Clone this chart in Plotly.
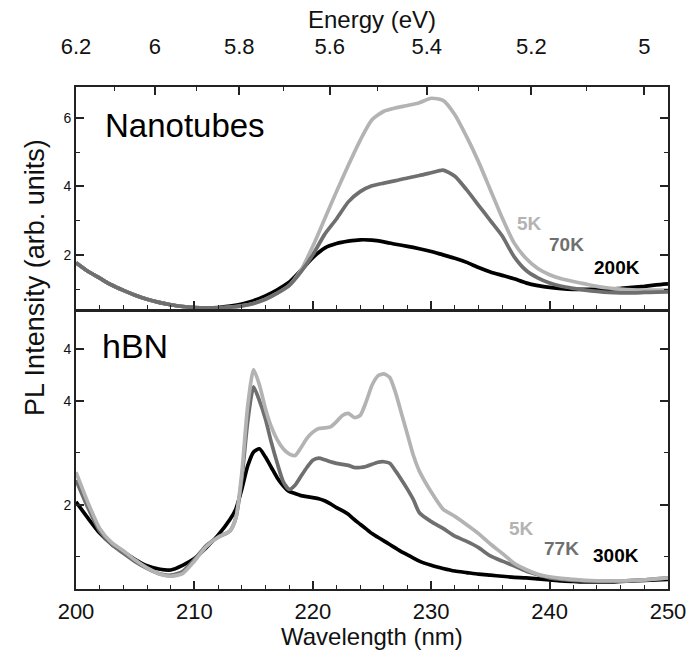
import plotly.graph_objects as go

# ---------------- data ----------------
wl_nt = [200, 201, 202, 203, 204, 205, 206, 207, 208, 209, 210, 211, 212, 213, 214, 215,
         216, 217, 218, 219, 220, 221, 222, 223, 224, 225, 226, 227, 228, 229, 230, 231,
         232, 233, 234, 235, 236, 237, 238, 239, 240, 241, 242, 243, 244, 245, 246, 247,
         248, 249, 250]
nt_5K = [1.77, 1.52, 1.32, 1.12, 0.96, 0.82, 0.70, 0.61, 0.54, 0.49, 0.46, 0.45, 0.45, 0.47, 0.51, 0.58,
         0.70, 0.88, 1.10, 1.55, 2.25, 3.05, 3.85, 4.62, 5.35, 5.95, 6.20, 6.30, 6.37, 6.45, 6.58, 6.52,
         6.10, 5.45, 4.72, 3.90, 3.08, 2.35, 1.90, 1.60, 1.42, 1.30, 1.22, 1.15, 1.08, 1.03, 1.00, 0.98,
         0.97, 0.97, 0.97]
nt_70K = [1.77, 1.52, 1.32, 1.12, 0.96, 0.82, 0.70, 0.61, 0.54, 0.49, 0.46, 0.45, 0.45, 0.47, 0.51, 0.58,
          0.70, 0.88, 1.10, 1.50, 2.00, 2.60, 3.05, 3.55, 3.85, 4.02, 4.10, 4.17, 4.25, 4.32, 4.40, 4.48,
          4.30, 3.90, 3.45, 3.00, 2.55, 1.95, 1.55, 1.33, 1.18, 1.08, 1.02, 0.97, 0.93, 0.90, 0.89, 0.89,
          0.90, 0.91, 0.92]
nt_200K = [1.77, 1.52, 1.32, 1.12, 0.96, 0.82, 0.70, 0.61, 0.54, 0.49, 0.46, 0.45, 0.46, 0.50, 0.56, 0.66,
           0.80, 0.98, 1.20, 1.55, 1.92, 2.20, 2.33, 2.40, 2.44, 2.43, 2.38, 2.31, 2.25, 2.18, 2.10, 2.00,
           1.90, 1.78, 1.63, 1.50, 1.40, 1.30, 1.18, 1.10, 1.05, 1.01, 0.99, 0.99, 0.99, 1.00, 1.02, 1.05,
           1.08, 1.12, 1.15]

wl_bn = [200, 201, 202, 203, 204, 205, 206, 207, 208, 209, 210, 211, 212, 213, 213.5, 214, 214.5,
         215, 215.5, 216, 216.5, 217, 217.5, 218, 218.5, 219, 219.5, 220, 220.5, 221, 221.5, 222,
         222.5, 223, 223.5, 224, 224.5, 225, 225.5, 226, 226.5, 227, 227.5, 228, 228.5, 229, 230,
         231, 232, 233, 234, 235, 236, 237, 238, 239, 240, 241, 242, 243, 244, 245, 246, 247, 248,
         249, 250]
bn_5K = [2.63, 2.05, 1.55, 1.28, 1.12, 0.94, 0.79, 0.68, 0.63, 0.68, 0.92, 1.20, 1.38, 1.50, 1.75, 2.60, 3.90,
         4.60, 4.30, 3.85, 3.50, 3.25, 3.08, 2.98, 2.95, 3.10, 3.28, 3.40, 3.47, 3.48, 3.50, 3.60,
         3.72, 3.76, 3.68, 3.72, 3.98, 4.30, 4.48, 4.52, 4.45, 4.15, 3.75, 3.35, 2.95, 2.65, 2.25,
         1.92, 1.78, 1.62, 1.45, 1.25, 1.07, 0.88, 0.76, 0.67, 0.62, 0.59, 0.57, 0.55, 0.54, 0.54, 0.54, 0.55, 0.56,
         0.58, 0.60]
bn_77K = [2.48, 1.95, 1.50, 1.24, 1.07, 0.91, 0.78, 0.68, 0.65, 0.72, 0.95, 1.22, 1.38, 1.50, 1.75, 2.50, 3.60,
          4.27, 4.00, 3.65, 3.20, 2.80, 2.45, 2.30, 2.38, 2.55, 2.72, 2.86, 2.90, 2.87, 2.83, 2.80,
          2.78, 2.76, 2.72, 2.72, 2.74, 2.78, 2.82, 2.83, 2.80, 2.65, 2.48, 2.30, 2.10, 1.85, 1.68,
          1.55, 1.40, 1.30, 1.18, 1.02, 0.92, 0.83, 0.73, 0.66, 0.60, 0.57, 0.55, 0.54, 0.54, 0.54, 0.54, 0.55, 0.56,
          0.58, 0.60]
bn_300K = [2.06, 1.75, 1.46, 1.25, 1.10, 0.95, 0.83, 0.77, 0.75, 0.84, 0.97, 1.18, 1.42, 1.72, 1.92, 2.30, 2.75,
           3.02, 3.08, 2.92, 2.72, 2.52, 2.37, 2.26, 2.22, 2.18, 2.16, 2.14, 2.12, 2.08, 2.02, 1.95,
           1.89, 1.82, 1.72, 1.63, 1.54, 1.45, 1.38, 1.31, 1.24, 1.17, 1.10, 1.04, 0.98, 0.92, 0.84,
           0.78, 0.73, 0.70, 0.67, 0.65, 0.63, 0.61, 0.60, 0.58, 0.56, 0.54, 0.53, 0.52, 0.52, 0.52, 0.53, 0.54, 0.55,
           0.56, 0.57]

wl_ticks = [200, 210, 220, 230, 240, 250]
energy_major = [6.2, 6.0, 5.8, 5.6, 5.4, 5.2, 5.0]
energy_labels = ["6.2", "6", "5.8", "5.6", "5.4", "5.2", "5"]
energy_minor = [6.1, 5.9, 5.7, 5.5, 5.3, 5.1]
nt_yticks = [2, 4, 6]
nt_ylabels = ["2", "4", "6"]
nt_yminor = [1, 3, 5]
bn_yticks = [2, 4, 5]
bn_ylabels = ["2", "4", "4"]
bn_yminor = [1, 3]
HC = 1240.0

C_LIGHT = "#b3b3b3"
C_MID = "#6f6f6f"
C_DARK = "#000000"

SANS = "Liberation Sans, Arial, sans-serif"

fig = go.Figure()

def add(x, y, color, xa, ya):
    fig.add_trace(go.Scatter(x=x, y=y, mode="lines", xaxis=xa, yaxis=ya,
                             line=dict(color=color, width=3.7, shape="spline", smoothing=0.6),
                             showlegend=False, hoverinfo="skip"))

add(wl_nt, nt_200K, C_DARK, "x", "y")
add(wl_nt, nt_5K, C_LIGHT, "x", "y")
add(wl_nt, nt_70K, C_MID, "x", "y")
add(wl_bn, bn_300K, C_DARK, "x2", "y2")
add(wl_bn, bn_77K, C_MID, "x2", "y2")
add(wl_bn, bn_5K, C_LIGHT, "x2", "y2")

LINE = "#222222"
common_x = dict(range=[200, 250], showgrid=False, zeroline=False, showline=True, linecolor=LINE,
                linewidth=2, ticks="inside", ticklen=8, tickwidth=1.5, tickcolor=LINE,
                tickvals=wl_ticks, automargin=False,
                minor=dict(dtick=2, tick0=200, ticks="inside", ticklen=4, tickwidth=1.2, tickcolor=LINE))
common_y = dict(showgrid=False, zeroline=False, showline=True, linecolor=LINE, linewidth=2,
                ticks="inside", ticklen=8, tickwidth=1.5, tickcolor=LINE, mirror="ticks",
                automargin=False, tickfont=dict(family=SANS, size=14, color="#111"))

fig.update_layout(
    width=690, height=655,
    margin=dict(l=76, r=22, t=87, b=66),
    paper_bgcolor="white", plot_bgcolor="white",
    xaxis=dict(**common_x, domain=[0, 1], anchor="y", showticklabels=False),
    yaxis=dict(**common_y, domain=[0.558, 1], range=[0.42, 6.91], tickvals=nt_yticks,
               ticktext=nt_ylabels,
               minor=dict(tickvals=nt_yminor, ticks="inside", ticklen=4, tickwidth=1.2, tickcolor=LINE)),
    xaxis2=dict(**common_x, domain=[0, 1], anchor="y2", mirror=True, ticklabelstandoff=2,
                tickfont=dict(family=SANS, size=22, color="#111")),
    yaxis2=dict(**common_y, domain=[0, 0.552], range=[0.385, 5.71], tickvals=bn_yticks,
                ticktext=bn_ylabels,
                minor=dict(tickvals=bn_yminor, ticks="inside", ticklen=4, tickwidth=1.2, tickcolor=LINE)),
    xaxis3=dict(range=[200, 250], overlaying="x", anchor="y", side="top", showgrid=False,
                zeroline=False, showline=True, linecolor=LINE, linewidth=2, automargin=False,
                ticks="inside", ticklen=8, tickwidth=1.5, tickcolor=LINE, ticklabelstandoff=22,
                tickmode="array", tickvals=[HC / e for e in energy_major], ticktext=energy_labels,
                tickfont=dict(family=SANS, size=22, color="#111"),
                minor=dict(tickmode="array", tickvals=[HC / e for e in energy_minor], ticks="inside",
                           ticklen=4, tickwidth=1.2, tickcolor=LINE)),
)

# placeholder trace so the overlaid energy axis is drawn
fig.add_trace(go.Scatter(x=[225], y=[None], xaxis="x3", yaxis="y", mode="lines",
                         showlegend=False, hoverinfo="skip"))

ann = []
ann.append(dict(text="Energy (eV)", x=0.5, y=1.135, xref="paper", yref="paper", showarrow=False,
                font=dict(family=SANS, size=24, color="#111"), xanchor="center", yanchor="middle"))
ann.append(dict(text="Wavelength (nm)", x=0.5, y=-0.0956, xref="paper", yref="paper", showarrow=False,
                font=dict(family=SANS, size=24, color="#111"), xanchor="center", yanchor="middle"))
ann.append(dict(text="PL Intensity (arb. units)", x=-0.069, y=0.62, xref="paper", yref="paper",
                showarrow=False, textangle=-90,
                font=dict(family=SANS, size=27, color="#111"), xanchor="center", yanchor="middle"))
ann.append(dict(text="Nanotubes", x=0.046, y=0.924, xref="paper", yref="paper", showarrow=False,
                font=dict(family=SANS, size=33, color="#000"), xanchor="left", yanchor="middle"))
ann.append(dict(text="hBN", x=0.04, y=0.484, xref="paper", yref="paper", showarrow=False,
                font=dict(family=SANS, size=34, color="#000"), xanchor="left", yanchor="middle"))

labels = [("5K", 238.3, 2.91, C_LIGHT, "x", "y"), ("70K", 241.4, 2.29, C_MID, "x", "y"),
          ("200K", 245.7, 1.62, C_DARK, "x", "y"),
          ("5K", 237.6, 1.54, C_LIGHT, "x2", "y2"), ("77K", 241.0, 1.17, C_MID, "x2", "y2"),
          ("300K", 245.6, 1.02, C_DARK, "x2", "y2")]
for t, lx, ly, c, xr, yr in labels:
    ann.append(dict(text="<b>%s</b>" % t, x=lx, y=ly, xref=xr, yref=yr, showarrow=False,
                    font=dict(family=SANS, size=19, color=c), xanchor="center", yanchor="middle"))

fig.update_layout(annotations=ann)
fig.write_html("out.html", config={"displayModeBar": False},
               post_script="document.body.style.margin='0';document.body.style.overflow='hidden';")
